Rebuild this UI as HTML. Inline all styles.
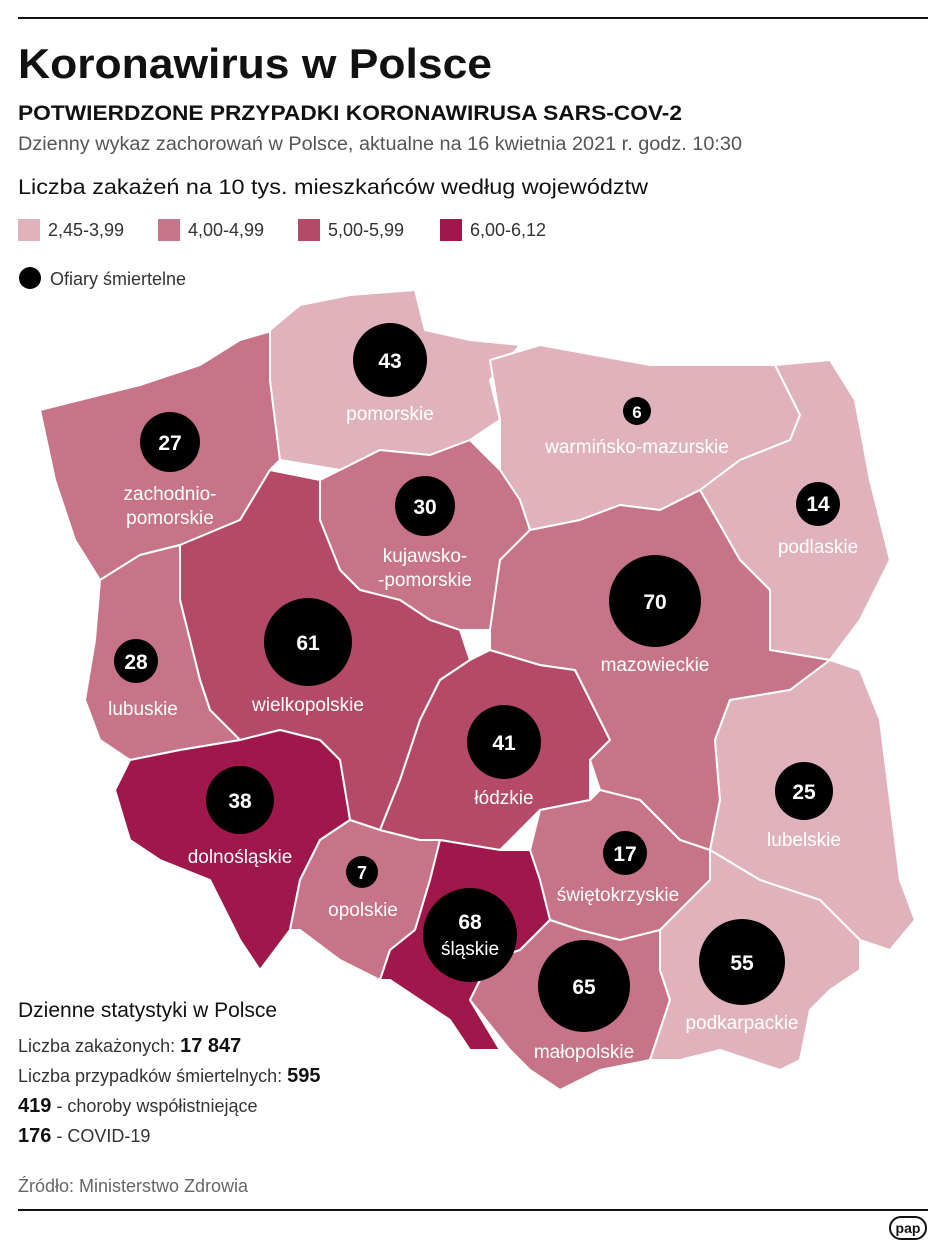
<!DOCTYPE html>
<html><head><meta charset="utf-8"><style>
body{margin:0;background:#fff;width:947px;height:1250px;overflow:hidden;font-family:"Liberation Sans",sans-serif;}
svg{position:absolute;left:0;top:0}
</style></head><body>
<svg width="947" height="1250" viewBox="0 0 947 1250" font-family="Liberation Sans, sans-serif">
<line x1="18" y1="18" x2="928" y2="18" stroke="#111" stroke-width="2"/>
<text x="18" y="78" font-size="42" font-weight="bold" fill="#111" textLength="474" lengthAdjust="spacingAndGlyphs">Koronawirus w Polsce</text>
<text x="18" y="120" font-size="21" font-weight="bold" fill="#111" textLength="664" lengthAdjust="spacingAndGlyphs">POTWIERDZONE PRZYPADKI KORONAWIRUSA SARS-COV-2</text>
<text x="18" y="150" font-size="19" fill="#555" textLength="724" lengthAdjust="spacingAndGlyphs">Dzienny wykaz zachorowań w Polsce, aktualne na 16 kwietnia 2021 r. godz. 10:30</text>
<text x="18" y="194" font-size="21" fill="#111" textLength="630" lengthAdjust="spacingAndGlyphs">Liczba zakażeń na 10 tys. mieszkańców według województw</text>
<rect x="18" y="219" width="22" height="22" fill="#dfb2bc"/><text x="48" y="236" font-size="18" fill="#333">2,45-3,99</text>
<rect x="158" y="219" width="22" height="22" fill="#c77489"/><text x="188" y="236" font-size="18" fill="#333">4,00-4,99</text>
<rect x="298" y="219" width="22" height="22" fill="#b44a67"/><text x="328" y="236" font-size="18" fill="#333">5,00-5,99</text>
<rect x="440" y="219" width="22" height="22" fill="#a0184b"/><text x="470" y="236" font-size="18" fill="#333">6,00-6,12</text>
<circle cx="30" cy="278" r="11" fill="#000"/><text x="50" y="285" font-size="18" fill="#333">Ofiary śmiertelne</text>
<g stroke="#fff" stroke-width="2" stroke-linejoin="round">
<polygon fill="#c77489" points="40,410 140,385 200,365 240,340 275,330 270,380 280,460 270,470 240,520 180,545 140,555 100,580 75,540 55,480"/>
<polygon fill="#dfb2bc" points="270,330 300,305 350,295 415,290 425,330 470,340 520,345 490,380 500,420 470,440 430,455 380,450 340,470 280,460 270,380"/>
<polygon fill="#dfb2bc" points="490,360 540,345 650,365 775,365 800,415 790,440 740,460 700,490 660,510 620,505 580,520 530,530 520,500 500,470 500,420"/>
<polygon fill="#dfb2bc" points="775,365 830,360 855,400 870,480 890,560 860,620 830,660 770,650 770,590 740,560 700,490 740,460 790,440 800,415"/>
<polygon fill="#c77489" points="320,480 340,470 380,450 430,455 470,440 500,470 520,500 530,530 500,560 490,630 460,630 430,620 400,600 360,590 340,570 320,520"/>
<polygon fill="#b44a67" points="270,470 320,480 320,520 340,570 360,590 400,600 430,620 460,630 470,660 440,680 420,720 400,780 380,830 350,820 340,760 320,740 280,730 240,740 210,710 200,680 180,600 180,545 240,520"/>
<polygon fill="#c77489" points="100,580 140,555 180,545 180,600 200,680 210,710 240,740 180,750 130,760 100,740 85,700 95,640"/>
<polygon fill="#a0184b" points="115,790 130,760 180,750 240,740 280,730 320,740 340,760 350,820 320,840 300,880 290,930 260,970 240,940 210,880 160,860 130,840"/>
<polygon fill="#c77489" points="350,820 380,830 420,840 440,840 430,880 415,930 390,950 380,980 340,960 300,930 290,930 300,880 320,840"/>
<polygon fill="#b44a67" points="440,680 470,660 490,650 540,665 575,670 600,720 610,740 590,760 590,800 540,810 500,850 440,840 420,840 380,830 400,780 420,720"/>
<polygon fill="#c77489" points="490,630 500,560 530,530 580,520 620,505 660,510 700,490 740,560 770,590 770,650 830,660 790,690 730,700 715,740 720,800 710,850 680,840 640,800 600,790 590,760 610,740 575,670 540,665 490,650"/>
<polygon fill="#dfb2bc" points="730,700 790,690 830,660 860,670 880,720 890,800 900,880 915,920 890,950 860,940 820,900 760,880 710,850 720,800 715,740"/>
<polygon fill="#c77489" points="540,810 590,800 600,790 640,800 680,840 710,850 710,880 660,930 620,940 580,930 550,920 540,880 530,850"/>
<polygon fill="#a0184b" points="440,840 500,850 530,850 540,880 550,920 520,950 490,960 470,1000 500,1050 470,1050 450,1020 420,1000 390,980 380,980 390,950 415,930 430,880"/>
<polygon fill="#c77489" points="490,960 520,950 550,920 580,930 620,940 660,930 660,970 670,1000 650,1060 600,1070 560,1090 530,1070 510,1050 470,1000"/>
<polygon fill="#dfb2bc" points="660,930 710,880 710,850 760,880 820,900 860,940 860,970 830,990 810,1010 800,1060 780,1070 720,1050 680,1060 650,1060 670,1000 660,970"/>
</g>
<g fill="#000">
<circle cx="390" cy="360" r="37"/><circle cx="170" cy="442" r="30"/><circle cx="425" cy="506" r="30"/><circle cx="637" cy="411" r="14"/><circle cx="818" cy="504" r="22"/><circle cx="655" cy="601" r="46"/><circle cx="308" cy="642" r="44"/><circle cx="136" cy="661" r="22"/><circle cx="504" cy="742" r="37"/><circle cx="240" cy="800" r="34"/><circle cx="804" cy="791" r="29"/><circle cx="625" cy="853" r="22"/><circle cx="362" cy="872" r="16"/><circle cx="470" cy="935" r="47"/><circle cx="584" cy="986" r="46"/><circle cx="742" cy="962" r="43"/>
</g>
<g fill="#fff" font-size="21" font-weight="bold" text-anchor="middle">
<text x="390" y="368">43</text><text x="170" y="450">27</text><text x="425" y="514">30</text><text x="637" y="418" font-size="17">6</text><text x="818" y="511">14</text><text x="655" y="609">70</text><text x="308" y="650">61</text><text x="136" y="669">28</text><text x="504" y="750">41</text><text x="240" y="808">38</text><text x="804" y="799">25</text><text x="625" y="861">17</text><text x="362" y="879" font-size="18">7</text><text x="470" y="929">68</text><text x="584" y="994">65</text><text x="742" y="970">55</text>
</g>
<g fill="#fff" font-size="19" text-anchor="middle">
<text x="390" y="420">pomorskie</text><text x="170" y="500">zachodnio-</text><text x="170" y="524">pomorskie</text><text x="637" y="453">warmińsko-mazurskie</text><text x="818" y="553">podlaskie</text><text x="425" y="562">kujawsko-</text><text x="425" y="586">-pomorskie</text><text x="655" y="671">mazowieckie</text><text x="308" y="711">wielkopolskie</text><text x="143" y="715">lubuskie</text><text x="504" y="804">łódzkie</text><text x="240" y="863">dolnośląskie</text><text x="804" y="846">lubelskie</text><text x="618" y="901">świętokrzyskie</text><text x="363" y="916">opolskie</text><text x="470" y="955">śląskie</text><text x="584" y="1058">małopolskie</text><text x="742" y="1029">podkarpackie</text>
</g>
<text x="18" y="1017" font-size="21" fill="#111">Dzienne statystyki w Polsce</text>
<text x="18" y="1052" font-size="18" fill="#333">Liczba zakażonych: <tspan font-weight="bold" font-size="20" fill="#111">17 847</tspan></text>
<text x="18" y="1082" font-size="18" fill="#333">Liczba przypadków śmiertelnych: <tspan font-weight="bold" font-size="20" fill="#111">595</tspan></text>
<text x="18" y="1112" font-size="18" fill="#333"><tspan font-weight="bold" font-size="20" fill="#111">419</tspan> - choroby współistniejące</text>
<text x="18" y="1142" font-size="18" fill="#333"><tspan font-weight="bold" font-size="20" fill="#111">176</tspan> - COVID-19</text>
<text x="18" y="1192" font-size="18" fill="#666">Źródło: Ministerstwo Zdrowia</text>
<line x1="18" y1="1210" x2="928" y2="1210" stroke="#111" stroke-width="2"/>
<rect x="890" y="1217" width="36" height="22" rx="11" fill="none" stroke="#111" stroke-width="2"/>
<text x="908" y="1233" font-size="14" font-weight="bold" text-anchor="middle" fill="#111">pap</text>
</svg>
</body></html>
